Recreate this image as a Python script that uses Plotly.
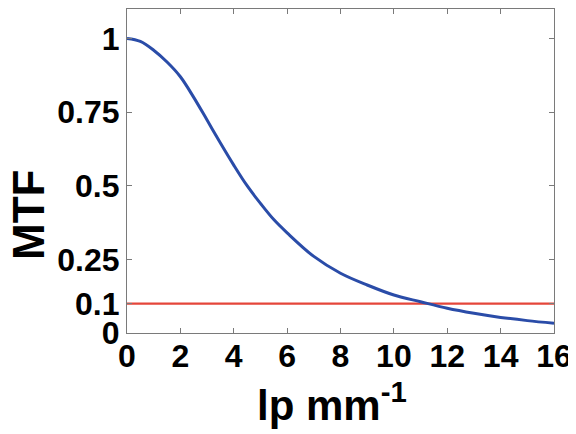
import plotly.graph_objects as go

# Data
freq = [0, 0.5, 1, 1.5, 2, 2.5, 3, 3.5, 4, 4.5, 5, 5.5, 6, 7, 8, 9, 10, 11, 12, 13, 14, 15, 16]
mtf = [1.0, 0.99, 0.96, 0.92, 0.87, 0.80, 0.723, 0.645, 0.57, 0.50, 0.44, 0.385, 0.34, 0.26,
       0.203, 0.163, 0.129, 0.106, 0.084, 0.067, 0.053, 0.042, 0.033]
threshold_x = [0, 16]
threshold_y = [0.1, 0.1]
x_ticks = [0, 2, 4, 6, 8, 10, 12, 14, 16]
y_ticks = [0, 0.1, 0.25, 0.5, 0.75, 1]
y_tick_labels = ["0", "0.1", "0.25", "0.5", "0.75", "1"]

FONT = "Liberation Sans, Arial, sans-serif"

fig = go.Figure()
fig.add_trace(go.Scatter(x=threshold_x, y=threshold_y, mode="lines",
                         line=dict(color="#e5463a", width=2.2), showlegend=False))
fig.add_trace(go.Scatter(x=freq, y=mtf, mode="lines", line_shape="spline",
                         line=dict(color="#2a4ca8", width=3), showlegend=False))

axis_common = dict(showgrid=False, zeroline=False, showline=True, linecolor="#7a7a7a",
                   linewidth=1.2, mirror="ticks", ticks="inside", ticklen=5,
                   tickcolor="#7a7a7a", tickwidth=1, automargin=False,
                   tickfont=dict(family=FONT, size=32, color="black", weight="bold"))

fig.update_xaxes(range=[0, 16], tickvals=x_ticks, ticklabelstandoff=-6, **axis_common)
fig.update_yaxes(range=[0, 1.1], tickvals=y_ticks, ticktext=y_tick_labels,
                 ticklabelstandoff=0, **axis_common)

fig.add_annotation(text="MTF", xref="paper", yref="paper", x=0, y=0.5,
                   xanchor="center", yanchor="middle", xshift=-99, yshift=-44,
                   textangle=-90, showarrow=False,
                   font=dict(family=FONT, size=44, color="black", weight="bold"))
fig.add_annotation(text="lp mm<sup>-1</sup>", xref="paper", yref="paper", x=0.48, y=0,
                   xanchor="center", yanchor="top", yshift=-40, showarrow=False,
                   font=dict(family=FONT, size=42, color="black", weight="bold"))

fig.update_layout(width=568, height=426, margin=dict(l=119, r=22, t=1, b=101),
                  plot_bgcolor="white", paper_bgcolor="white")

fig.write_html("out.html")
